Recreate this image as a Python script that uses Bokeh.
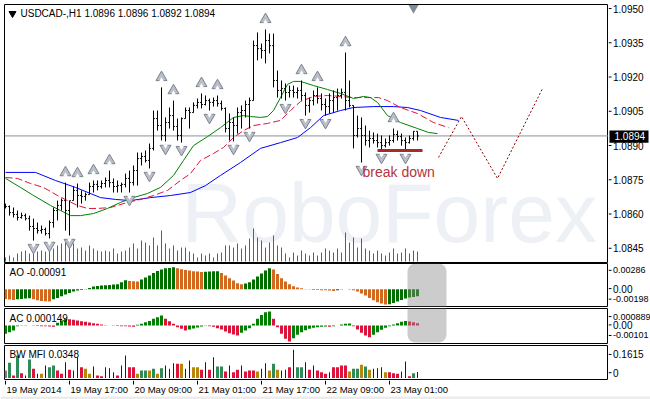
import numpy as np
from bokeh.plotting import figure
from bokeh.models import Range1d, Label
from bokeh.layouts import column, row
from bokeh.embed import file_html
from bokeh.resources import INLINE
from bokeh.core.properties import value

FONT = "Liberation Sans"

# ---------------- data ----------------
header_text = "USDCAD-,H1  1.0896 1.0896 1.0892 1.0894"
time_labels = ["19 May 2014", "19 May 17:00", "20 May 09:00", "21 May 01:00",
               "21 May 17:00", "22 May 09:00", "23 May 01:00"]
time_label_bars = [0, 16, 32, 48, 64, 80, 96]

opens = [1.08639, 1.08634, 1.08608, 1.08600, 1.08587, 1.08595, 1.08582, 1.08548, 1.08539, 1.08530,
         1.08535, 1.08517, 1.08565, 1.08617, 1.08639, 1.08660, 1.08617, 1.08660, 1.08704, 1.08682,
         1.08678, 1.08686, 1.08721, 1.08730, 1.08721, 1.08734, 1.08747, 1.08738, 1.08721, 1.08725,
         1.08730, 1.08756, 1.08738, 1.08790, 1.08842, 1.08851, 1.08834, 1.08886, 1.09015, 1.08985,
         1.08942, 1.08998, 1.09028, 1.08981, 1.08942, 1.09015, 1.09050, 1.09041, 1.09072, 1.09085,
         1.09076, 1.09093, 1.09085, 1.09093, 1.09080, 1.09059, 1.08972, 1.08998, 1.08985, 1.09041,
         1.09050, 1.09076, 1.09093, 1.09331, 1.09318, 1.09310, 1.09353, 1.09331, 1.09180, 1.09137,
         1.09145, 1.09128, 1.09137, 1.09128, 1.09137, 1.09115, 1.09072, 1.09093, 1.09115, 1.09102,
         1.09076, 1.09067, 1.09093, 1.09106, 1.09115, 1.09128, 1.09093, 1.09072, 1.08942, 1.08972,
         1.08942, 1.08920, 1.08929, 1.08920, 1.08911, 1.08898, 1.08911, 1.08920, 1.08946, 1.08937,
         1.08920, 1.08911, 1.08929, 1.08960]
highs = [1.08647, 1.08639, 1.08630, 1.08617, 1.08608, 1.08604, 1.08595, 1.08582, 1.08565, 1.08552,
         1.08543, 1.08574, 1.08630, 1.08660, 1.08669, 1.08738, 1.08660, 1.08721, 1.08734, 1.08704,
         1.08695, 1.08738, 1.08747, 1.08747, 1.08747, 1.08760, 1.08790, 1.08756, 1.08747, 1.08738,
         1.08777, 1.08790, 1.08812, 1.08868, 1.08868, 1.08877, 1.08907, 1.09050, 1.09050, 1.09150,
         1.09020, 1.09063, 1.09093, 1.09015, 1.09020, 1.09063, 1.09063, 1.09085, 1.09102, 1.09124,
         1.09115, 1.09102, 1.09106, 1.09115, 1.09093, 1.09063, 1.09037, 1.09020, 1.09063, 1.09072,
         1.09093, 1.09106, 1.09353, 1.09388, 1.09340, 1.09401, 1.09383, 1.09383, 1.09223, 1.09180,
         1.09167, 1.09158, 1.09158, 1.09150, 1.09180, 1.09128, 1.09106, 1.09137, 1.09150, 1.09124,
         1.09102, 1.09124, 1.09137, 1.09145, 1.09145, 1.09301, 1.09180, 1.09072, 1.09028, 1.09020,
         1.08985, 1.08963, 1.08955, 1.08950, 1.08942, 1.08929, 1.08942, 1.08972, 1.08963, 1.08950,
         1.08933, 1.08942, 1.08960, 1.08960]
lows = [1.08626, 1.08595, 1.08587, 1.08574, 1.08582, 1.08574, 1.08530, 1.08487, 1.08517, 1.08517,
        1.08509, 1.08496, 1.08543, 1.08574, 1.08617, 1.08530, 1.08509, 1.08660, 1.08630, 1.08647,
        1.08660, 1.08686, 1.08695, 1.08704, 1.08712, 1.08717, 1.08717, 1.08695, 1.08695, 1.08695,
        1.08717, 1.08695, 1.08725, 1.08725, 1.08812, 1.08825, 1.08799, 1.08877, 1.08963, 1.08920,
        1.08916, 1.08972, 1.08963, 1.08920, 1.08911, 1.09015, 1.08972, 1.09041, 1.09059, 1.09059,
        1.09072, 1.09050, 1.09067, 1.09067, 1.09050, 1.08955, 1.08920, 1.08916, 1.08950, 1.08972,
        1.09020, 1.08972, 1.09093, 1.09267, 1.09275, 1.09254, 1.09297, 1.09150, 1.09106, 1.09102,
        1.09093, 1.09106, 1.09106, 1.09102, 1.09093, 1.09028, 1.09041, 1.09072, 1.09080, 1.09050,
        1.09028, 1.09037, 1.09041, 1.09050, 1.09102, 1.09050, 1.09063, 1.08886, 1.08933, 1.08825,
        1.08898, 1.08890, 1.08907, 1.08890, 1.08877, 1.08890, 1.08898, 1.08911, 1.08920, 1.08898,
        1.08877, 1.08907, 1.08920, 1.08920]
closes = [1.08634, 1.08608, 1.08600, 1.08587, 1.08595, 1.08582, 1.08548, 1.08539, 1.08530, 1.08535,
          1.08517, 1.08565, 1.08617, 1.08639, 1.08660, 1.08617, 1.08660, 1.08704, 1.08682, 1.08678,
          1.08686, 1.08721, 1.08730, 1.08721, 1.08734, 1.08747, 1.08738, 1.08721, 1.08725, 1.08730,
          1.08756, 1.08738, 1.08790, 1.08842, 1.08851, 1.08834, 1.08886, 1.09015, 1.08985, 1.08942,
          1.08998, 1.09028, 1.08981, 1.08942, 1.09015, 1.09050, 1.09041, 1.09072, 1.09085, 1.09076,
          1.09093, 1.09085, 1.09093, 1.09080, 1.09059, 1.08972, 1.08998, 1.08985, 1.09041, 1.09050,
          1.09076, 1.09093, 1.09331, 1.09318, 1.09310, 1.09353, 1.09331, 1.09180, 1.09137, 1.09145,
          1.09128, 1.09137, 1.09128, 1.09137, 1.09115, 1.09072, 1.09093, 1.09115, 1.09102, 1.09076,
          1.09067, 1.09093, 1.09106, 1.09115, 1.09128, 1.09093, 1.09072, 1.08942, 1.08972, 1.08942,
          1.08920, 1.08929, 1.08920, 1.08911, 1.08898, 1.08911, 1.08920, 1.08946, 1.08937, 1.08920,
          1.08911, 1.08929, 1.08960, 1.08940]
volumes = [400, 600, 400, 800, 1000, 1100, 800, 1300, 1000, 1100,
           1000, 1400, 1300, 1600, 1800, 1900, 1600, 1800, 1300, 1400,
           1100, 1600, 1300, 1100, 1000, 1100, 1000, 1300, 800, 1000,
           1100, 1400, 1800, 1300, 2100, 1900, 1600, 2400, 1600, 3100,
           1800, 1300, 1600, 1100, 1400, 1400, 1000, 800, 400, 800,
           600, 800, 400, 800, 900, 1600, 1600, 1400, 1800, 1300,
           1600, 2300, 3300, 2400, 2100, 1400, 1900, 2600, 1600, 1400,
           800, 400, 900, 600, 1100, 800, 600, 900, 600, 900,
           1300, 1100, 900, 1300, 900, 2900, 1900, 2400, 1400, 2300,
           1300, 1100, 800, 1100, 800, 600, 900, 1300, 800, 900,
           1300, 800, 1100, 1000]

up_fractal_bars = [15, 18, 22, 26, 39, 42, 49, 53, 65, 74, 78, 85, 97]
down_fractal_bars = [7, 11, 16, 31, 36, 40, 44, 51, 57, 61, 70, 75, 80, 89, 94, 100]

jaw_x = [0, 7.5, 12.5, 17.5, 23.75, 27.5, 31.25, 36.25, 41.25, 46.25, 50, 53.75, 58.75, 63.75,
         68.75, 73, 76.25, 79.5, 83.75, 87, 92, 97, 100.5, 103.75, 108.75, 113.25]
jaw_y = [1.08782, 1.08782, 1.08747, 1.08717, 1.08673, 1.08665, 1.08660, 1.08673, 1.08682, 1.08695,
         1.08725, 1.08769, 1.08825, 1.08886, 1.08911, 1.08933, 1.08976, 1.09028, 1.09050, 1.09063,
         1.09067, 1.09067, 1.09063, 1.09050, 1.09020, 1.09007]
teeth_x = [0, 3, 6.25, 9.5, 13, 15.5, 18, 20.5, 23, 26.25, 30.5, 33.75, 37, 40.5, 43.75, 46.25,
           48.75, 52, 54.5, 57, 59.5, 62, 65.5, 68.75, 71.25, 73.75, 77, 80.5, 83.75, 87, 90.5,
           93.25, 95.5, 98.75, 103, 107, 110.75]
teeth_y = [1.08760, 1.08756, 1.08734, 1.08717, 1.08682, 1.08660, 1.08639, 1.08626, 1.08626, 1.08630,
           1.08652, 1.08665, 1.08682, 1.08704, 1.08747, 1.08777, 1.08834, 1.08864, 1.08890, 1.08933,
           1.08963, 1.08985, 1.08994, 1.09007, 1.09050, 1.09089, 1.09111, 1.09115, 1.09111, 1.09106,
           1.09106, 1.09106, 1.09093, 1.09063, 1.09037, 1.08998, 1.08976]
lips_x = [0, 3.75, 7, 11.25, 13.75, 16.25, 18.75, 22, 25.5, 28.75, 32, 35.5, 38.75, 42, 44.5, 47,
          50.5, 53.75, 57, 59.5, 61.25, 63.75, 65.5, 67, 68.75, 70.5, 72, 73.75, 77, 80.5, 83.75,
          87, 89.5, 91.25, 93, 95.5, 98.75, 103, 105.75, 108]
lips_y = [1.08756, 1.08717, 1.08682, 1.08639, 1.08617, 1.08595, 1.08595, 1.08604, 1.08626, 1.08652,
          1.08673, 1.08691, 1.08717, 1.08769, 1.08834, 1.08898, 1.08937, 1.08976, 1.09020, 1.09028,
          1.09024, 1.09020, 1.09024, 1.09050, 1.09106, 1.09163, 1.09176, 1.09176, 1.09158, 1.09141,
          1.09124, 1.09102, 1.09111, 1.09106, 1.09085, 1.09028, 1.08998, 1.08972, 1.08955, 1.08950]

forecast_x = [108.25, 114, 123, 134.25]
forecast_y = [1.08847, 1.09024, 1.08756, 1.09145]
breakdown_level = 1.08877
breakdown_bars = [93, 104.25]
breakdown_text = "break down"
current_price = 1.0894
current_price_text = "1.0894"
price_ticks = [1.0950, 1.0935, 1.0920, 1.0905, 1.0890, 1.0875, 1.0860, 1.0845]
price_tick_labels = ["1.0950", "1.0935", "1.0920", "1.0905", "1.0890", "1.0875", "1.0860", "1.0845"]

ao = [-0.00126, -0.00134, -0.00139, -0.00130, -0.00126, -0.00121, -0.00117, -0.00130, -0.00143, -0.00152,
      -0.00156, -0.00160, -0.00130, -0.00113, -0.00091, -0.00069, -0.00048, -0.00030, -0.00017, -0.00009,
      0.00004, 0.00017, 0.00035, 0.00043, 0.00048, 0.00052, 0.00056, 0.00061, 0.00065, 0.00091,
      0.00117, 0.00108, 0.00104, 0.00100, 0.00126, 0.00152, 0.00178, 0.00212, 0.00238, 0.00255,
      0.00273, 0.00277, 0.00286, 0.00273, 0.00260, 0.00251, 0.00242, 0.00234, 0.00229, 0.00225,
      0.00227, 0.00229, 0.00232, 0.00234, 0.00212, 0.00178, 0.00143, 0.00113, 0.00078, 0.00065,
      0.00074, 0.00091, 0.00126, 0.00165, 0.00204, 0.00242, 0.00273, 0.00255, 0.00199, 0.00143,
      0.00100, 0.00065, 0.00039, 0.00022, 0.00013, 0.00004, -0.00004, -0.00009, -0.00011, -0.00013,
      -0.00015, -0.00017, -0.00022, -0.00013, -0.00004, 0.00000, 0.00004, -0.00013, -0.00030, -0.00056,
      -0.00082, -0.00113, -0.00143, -0.00169, -0.00186, -0.00198, -0.00195, -0.00178, -0.00160, -0.00139,
      -0.00121, -0.00108, -0.00100, -0.00091]
ao_tick_labels = ["0.00286", "0.00", "-0.00198"]

ac = [-0.000528, -0.000422, -0.000317, -0.000042, -0.000021, -0.000011, 0.000005, -0.000021, -0.000032, -0.000042,
      -0.000053, -0.000063, -0.000074, 0.000169, 0.000317, 0.000422, 0.000401, 0.000359, 0.000317, 0.000274,
      0.000232, 0.000190, 0.000148, 0.000106, 0.000063, 0.000021, -0.000005, -0.000021, -0.000032, -0.000042,
      -0.000053, -0.000063, -0.000074, 0.000042, 0.000106, 0.000211, 0.000295, 0.000422, 0.000528, 0.000633,
      0.000422, 0.000274, 0.000106, -0.000106, -0.000211, -0.000317, -0.000253, -0.000190, -0.000127, -0.000063,
      -0.000021, -0.000042, -0.000084, -0.000169, -0.000253, -0.000380, -0.000485, -0.000570, -0.000633, -0.000464,
      -0.000317, -0.000169, 0.000106, 0.000422, 0.000675, 0.000844, 0.000889, 0.000422, -0.000106, -0.000528,
      -0.000844, -0.001010, -0.000802, -0.000591, -0.000422, -0.000295, -0.000211, -0.000148, -0.000106, -0.000084,
      -0.000063, -0.000074, -0.000042, 0.000002, 0.000063, 0.000106, 0.000127, -0.000042, -0.000253, -0.000464,
      -0.000633, -0.000739, -0.000591, -0.000422, -0.000274, -0.000148, -0.000042, 0.000063, 0.000148, 0.000232,
      0.000295, 0.000253, 0.000211, 0.000149]
ac_tick_labels = ["0.000889", "0.00", "-0.00101"]

mfi = [0.0430, 0.0869, 0.0143, 0.1289, 0.0277, 0.0143, 0.1060, 0.0525, 0.0239, 0.0239,
       0.0716, 0.0621, 0.0716, 0.0430, 0.0239, 0.0907, 0.0468, 0.0430, 0.1194, 0.0621,
       0.0525, 0.0239, 0.0659, 0.0143, 0.0105, 0.0621, 0.0563, 0.0334, 0.0143, 0.0716,
       0.1289, 0.0621, 0.0621, 0.0239, 0.0430, 0.0430, 0.0430, 0.0525, 0.0239, 0.0563,
       0.0716, 0.0525, 0.0850, 0.0812, 0.0812, 0.0525, 0.1003, 0.0621, 0.0621, 0.0468,
       0.0907, 0.0468, 0.1194, 0.0659, 0.0659, 0.0372, 0.0716, 0.0334, 0.0468, 0.0716,
       0.0372, 0.0430, 0.0430, 0.0372, 0.0525, 0.0850, 0.0430, 0.0812, 0.0468, 0.0430,
       0.0468, 0.0621, 0.1615, 0.0621, 0.0621, 0.0907, 0.0468, 0.0716, 0.0430, 0.0334,
       0.0239, 0.0334, 0.0621, 0.0621, 0.0716, 0.0716, 0.0372, 0.0525, 0.0525, 0.0754,
       0.0659, 0.0468, 0.0525, 0.0563, 0.0621, 0.0334, 0.0334, 0.0277, 0.0239, 0.0372,
       0.0945, 0.0105, 0.0277, 0.0348]
mfi_state = ["none", "green", "squat", "green", "squat", "fake", "green", "squat", "fake", "fade",
             "fake", "green", "green", "squat", "squat", "fake", "squat", "fake", "fake", "squat",
             "fade", "fade", "fake", "squat", "squat", "fake", "fake", "fake", "squat", "fake",
             "fake", "squat", "squat", "fade", "green", "green", "fade", "green", "fade", "green",
             "fake", "fake", "fake", "squat", "fade", "fake", "fake", "fade", "fade", "squat",
             "fake", "squat", "fake", "green", "green", "squat", "fake", "squat", "squat", "fake",
             "squat", "squat", "squat", "fade", "fake", "fake", "fade", "green", "fade", "fake",
             "fake", "squat", "fake", "green", "green", "fake", "squat", "fake", "squat", "squat",
             "squat", "fake", "squat", "squat", "squat", "squat", "fade", "green", "green", "fade",
             "green", "fade", "fake", "fake", "fake", "fade", "squat", "squat", "squat", "fake",
             "fake", "squat", "green", "fake"]
mfi_tick_labels = ["0.1615", "0"]

# ---------------- layout helpers ----------------
n = len(closes)
idx = np.arange(n, dtype=float)
XR = Range1d(-0.25, 150.75)          # 4 px per bar, frame 604 px wide
SCALE_W = 42                          # width of the right-hand price scale strip


def base_fig(w, h, xr, yr, **kw):
    f = figure(width=w, height=h, x_range=xr, y_range=yr,
               output_backend="svg", toolbar_location=None, tools="",
               x_axis_location=None, y_axis_location=None, title=None, **kw)
    f.grid.visible = False
    f.background_fill_color = "white"
    f.border_fill_color = "white"
    return f


def panel_row(h, top, bottom, y0, y1, tick_pos, tick_txt, extra=None):
    p = base_fig(650 - SCALE_W, h, XR, Range1d(y0, y1),
                 min_border_left=4, min_border_right=0,
                 min_border_top=top, min_border_bottom=bottom)
    p.outline_line_color = "black"
    unit = (y1 - y0) / (h - top - bottom)
    s = base_fig(SCALE_W, h, Range1d(0, SCALE_W),
                 Range1d(y0 - bottom * unit, y1 + top * unit), min_border=0)
    s.outline_line_color = None
    if extra is not None:
        ey, etxt = extra
        s.quad(left=1, right=40, bottom=ey - 6.5 * unit, top=ey + 6 * unit,
               fill_color="black", line_color=None)
    s.segment(x0=0, y0=tick_pos, x1=3, y1=tick_pos, line_color="black", line_width=1)
    short = [k for k, t in enumerate(tick_txt) if len(t) <= 6]
    long_ = [k for k, t in enumerate(tick_txt) if len(t) > 6]
    for sel, fs in ((short, "10px"), (long_, "9px")):
        if sel:
            s.text(x=4.5, y=[tick_pos[k] for k in sel], text=[tick_txt[k] for k in sel],
                   text_font=value(FONT), text_font_size=fs,
                   text_baseline="middle", text_align="left", text_color="black")
    if extra is not None:
        s.text(x=[6], y=[ey], text=[etxt], text_font=value(FONT), text_font_size="10px",
               text_baseline="middle", text_align="left", text_color="white")
    return p, s


# ---------------- top strip ----------------
top = base_fig(650, 2, Range1d(0, 1), Range1d(0, 1), min_border=0)
top.outline_line_color = None
top.background_fill_color = "#a9a9a9"
top.border_fill_color = "#a9a9a9"

# ---------------- main price chart ----------------
p, ps = panel_row(261, 2, 1, 1.08392, 1.09509, price_ticks, price_tick_labels,
                  extra=(current_price, current_price_text))
p.extra_y_ranges = {"vol": Range1d(-100, 25700)}
unit_px = (1.09509 - 1.08392) / 258

p.add_layout(Label(x=44.0, y=1.08608, text="RoboForex", text_font=FONT,
                   text_font_size="84px", text_color="#edf0f5", level="underlay",
                   text_baseline="middle"))

p.segment(x0=idx, y0=0, x1=idx, y1=volumes, y_range_name="vol", line_color="#1e8c1e", line_width=1)
p.segment(x0=XR.start, y0=current_price, x1=XR.end, y1=current_price, line_color="#8a929c", line_width=1)

p.line(jaw_x, jaw_y, line_color="#0000ff", line_width=1)
p.line(teeth_x, teeth_y, line_color="#dc143c", line_width=1, line_dash="7 3")
p.line(lips_x, lips_y, line_color="#008000", line_width=1)

p.segment(x0=idx, y0=lows, x1=idx, y1=highs, line_color="black", line_width=1)
p.segment(x0=idx - 0.35, y0=opens, x1=idx, y1=opens, line_color="black", line_width=1)
p.segment(x0=idx, y0=closes, x1=idx + 0.35, y1=closes, line_color="black", line_width=1)

# Bill Williams fractal arrowheads (triangle with a notch in its base)
hi = np.array(highs)
lo = np.array(lows)
up_y = hi[up_fractal_bars] + 10 * unit_px
dn_y = lo[down_fractal_bars] - 7 * unit_px
p.scatter(x=up_fractal_bars, y=up_y, marker="triangle", size=11,
          fill_color="#b9bec8", line_color="#7d8490", line_width=1)
p.scatter(x=up_fractal_bars, y=up_y - 2.6 * unit_px, marker="triangle", size=5,
          fill_color="white", line_color=None)
p.scatter(x=down_fractal_bars, y=dn_y, marker="inverted_triangle", size=11,
          fill_color="#b9bec8", line_color="#7d8490", line_width=1)
p.scatter(x=down_fractal_bars, y=dn_y + 2.6 * unit_px, marker="inverted_triangle", size=5,
          fill_color="white", line_color=None)

p.scatter(x=[102], y=[1.09494], marker="inverted_triangle", size=10, fill_color="#7f8c99", line_color=None)

p.line(forecast_x, forecast_y, line_color="#8b0000", line_width=1, line_dash="2 2")
p.segment(x0=breakdown_bars[0], y0=breakdown_level, x1=breakdown_bars[1], y1=breakdown_level,
          line_color="#a52a2a", line_width=3)
p.add_layout(Label(x=89.25, y=1.08782, text=breakdown_text, text_font=FONT, text_font_size="14px",
                   text_color="#b5343c", text_baseline="middle"))

p.scatter(x=[1.75], y=[1.09470], marker="inverted_triangle", size=7, fill_color="black", line_color="black")
p.add_layout(Label(x=3.75, y=1.09471, text=header_text, text_font=FONT, text_font_size="10px",
                   text_baseline="middle", text_color="black"))

# ---------------- AO ----------------
ao_arr = np.array(ao)
ao_col = ["#d2691e" if (k == 0 or ao_arr[k] <= ao_arr[k - 1]) else "#006f00" for k in range(n)]
pa, pas = panel_row(44, 0, 1, -0.00225, 0.00334, [0.00243, 0.0, -0.00140], ao_tick_labels)
pa.vbar(x=idx, top=ao_arr, bottom=0, width=0.75, fill_color=ao_col, line_color=None)
pa.quad(left=100.5, right=110.25, bottom=-0.01, top=0.00334, border_radius=8,
        fill_color="#8b8b8b", fill_alpha=0.44, line_color=None)
pa.add_layout(Label(x=1.0, y=0.00217, text="AO -0.00091", text_font=FONT, text_font_size="10px",
                    text_baseline="middle", text_color="black"))

# ---------------- AC ----------------
ac_arr = np.array(ac)
ac_col = ["#008000" if (k == 0 or ac_arr[k] > ac_arr[k - 1]) else "#dc143c" for k in range(n)]
pc, pcs = panel_row(37, 1, 1, -0.00114, 0.00108, [0.000601, 0.0000443, -0.000665], ac_tick_labels)
pc.vbar(x=idx, top=ac_arr, bottom=0, width=0.75, fill_color=ac_col, line_color=None)
pc.quad(left=100.5, right=110.25, bottom=-0.00108, top=0.01, border_radius=8,
        fill_color="#8b8b8b", fill_alpha=0.44, line_color=None)
pc.add_layout(Label(x=1.0, y=0.000443, text="AC 0.000149", text_font=FONT, text_font_size="10px",
                    text_baseline="middle", text_color="black"))

# ---------------- BW MFI ----------------
state_color = {"none": "#808080", "green": "#2e8b57", "fade": "#b8860b",
               "fake": "#0000ff", "squat": "#dc143c"}
mfi_col = [state_color[s] for s in mfi_state]
mfi_w = [0.25 if s == "fake" else 0.75 for s in mfi_state]
pm, pms = panel_row(36, 1, 1, -0.0086, 0.186, [0.1375, 0.0269], mfi_tick_labels)
pm.vbar(x=idx, top=mfi, bottom=0, width=mfi_w, fill_color=mfi_col, line_color=None)
pm.add_layout(Label(x=1.0, y=0.1347, text="BW MFI 0.0348", text_font=FONT, text_font_size="10px",
                    text_baseline="middle", text_color="black"))

# ---------------- time scale strip ----------------
pt = base_fig(650, 19, Range1d(-1.25, 161.25), Range1d(19, 0), min_border=0)
pt.outline_line_color = None
tb = np.array(time_label_bars, dtype=float)
pt.segment(x0=tb, y0=0, x1=tb, y1=4, line_color="black", line_width=1)
pt.text(x=tb + 0.25, y=8.5, text=time_labels, text_font=value(FONT), text_font_size="9.5px",
        text_baseline="middle", text_align="left", text_color="black")
pt.quad(left=-1.25, right=161.25, bottom=16, top=19, fill_color="#ececec", line_color=None)

layout = column(top, row(p, ps, spacing=0), row(pa, pas, spacing=0), row(pc, pcs, spacing=0),
                row(pm, pms, spacing=0), pt, spacing=0)
open("out.html", "w").write(file_html(layout, INLINE))
